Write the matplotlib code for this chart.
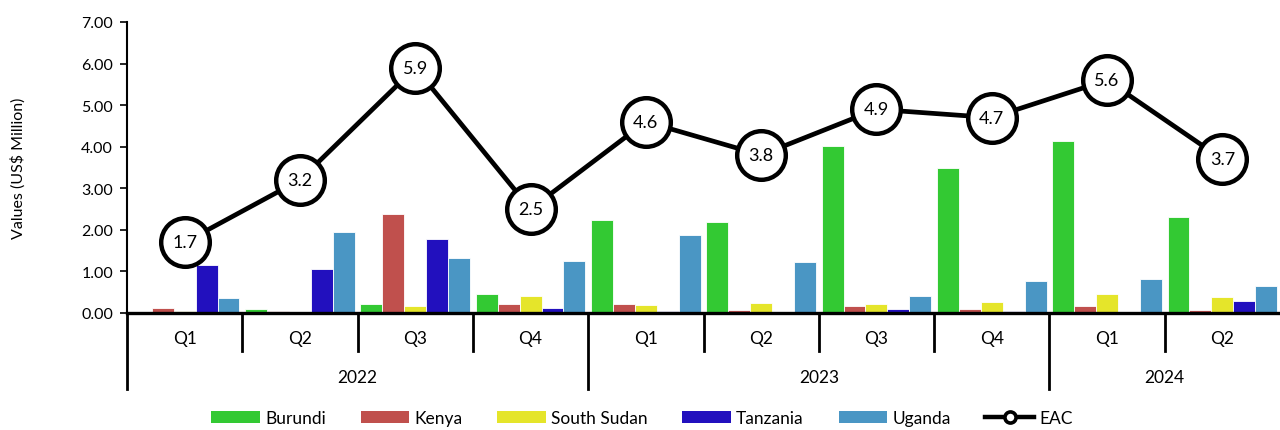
import numpy as np
import matplotlib
matplotlib.use("Agg")
import matplotlib.pyplot as plt
from matplotlib.patches import Patch
from matplotlib.lines import Line2D
import matplotlib.transforms as mtransforms

plt.rcParams['font.family'] = ['Lato', 'DejaVu Sans']

# data (US$ Million)
quarters = ["Q1", "Q2", "Q3", "Q4", "Q1", "Q2", "Q3", "Q4", "Q1", "Q2"]
years = ["2022", "2023", "2024"]
year_spans = [(0, 3), (4, 7), (8, 9)]

burundi = [0.00, 0.10, 0.22, 0.46, 2.24, 2.18, 4.02, 3.49, 4.13, 2.30]
kenya = [0.11, 0.06, 2.38, 0.21, 0.22, 0.07, 0.18, 0.09, 0.16, 0.07]
south_sudan = [0.05, 0.00, 0.18, 0.41, 0.19, 0.25, 0.22, 0.26, 0.45, 0.38]
tanzania = [1.16, 1.06, 1.77, 0.12, 0.06, 0.01, 0.09, 0.06, 0.00, 0.29]
uganda = [0.37, 1.96, 1.32, 1.25, 1.88, 1.23, 0.41, 0.76, 0.82, 0.64]
eac = [1.7, 3.2, 5.9, 2.5, 4.6, 3.8, 4.9, 4.7, 5.6, 3.7]

series = [
    ("Burundi", burundi, "#33C933"),
    ("Kenya", kenya, "#C0504D"),
    ("South Sudan", south_sudan, "#E5E52A"),
    ("Tanzania", tanzania, "#2210BE"),
    ("Uganda", uganda, "#4A96C4"),
]

fig = plt.figure(figsize=(12.8, 4.31), dpi=100)
ax = fig.add_axes([127 / 1280, 117 / 431, 1 - 127 / 1280, 291 / 431])

x = np.arange(len(quarters))
w = 0.19
for i, (name, vals, col) in enumerate(series):
    ax.bar(x + (i - 2) * w, vals, width=w, color=col, edgecolor="white",
           linewidth=0.6, label=name, zorder=2)

ax.plot(x, eac, color="black", lw=3.4, zorder=3)
ax.plot(x, eac, "o", ms=35, mfc="white", mec="black", mew=3.2, zorder=4)
for xi, v in zip(x, eac):
    ax.text(xi, v, "%.1f" % v, ha="center", va="center", fontsize=13, zorder=5)

ax.set_xlim(-0.5, len(quarters) - 0.5)
ax.set_ylim(0, 7)
ax.set_yticks(np.arange(0, 8, 1))
ax.set_yticklabels(["%.2f" % t for t in np.arange(0, 8, 1)], fontsize=11.5)
ax.set_xticks([])
ax.tick_params(axis="y", length=5, width=1.2, pad=5)
ax.set_ylabel("Values (US$ Million)", fontsize=11.5)
ax.yaxis.set_label_coords((26 - 127) / 1153, 0.5)
ax.spines["top"].set_visible(False)
ax.spines["right"].set_visible(False)
ax.spines["left"].set_linewidth(1.5)
ax.spines["bottom"].set_linewidth(2.4)

# multi-level category axis
trans = mtransforms.blended_transform_factory(ax.transData, ax.transAxes)
for xi, q in zip(x, quarters):
    ax.text(xi, -0.087, q, transform=trans, ha="center", va="center", fontsize=12.5)
for b in [0.5, 1.5, 2.5, 4.5, 5.5, 6.5, 8.5]:
    ax.plot([b, b], [0, -0.131], color="black", lw=2, transform=trans, clip_on=False)
for b in [-0.5, 3.5, 7.5]:
    ax.plot([b, b], [0, -0.261], color="black", lw=2, transform=trans, clip_on=False)
for yr, (a, b) in zip(years, year_spans):
    ax.text((a + b) / 2, -0.22, yr, transform=trans, ha="center", va="center", fontsize=12.5)

handles = [Patch(facecolor=col, label=name) for name, vals, col in series]
handles.append(Line2D([], [], color="black", lw=3.2, marker="o", ms=8, mfc="white",
                      mec="black", mew=2.6, label="EAC"))
fig.legend(handles=handles, loc="center", bbox_to_anchor=(642 / 1280, 1 - 419 / 431),
           ncol=6, frameon=False, fontsize=12.5, handlelength=2.8, handleheight=0.7,
           handletextpad=0.3, columnspacing=2.0)

fig.savefig("out.png", dpi=100)
